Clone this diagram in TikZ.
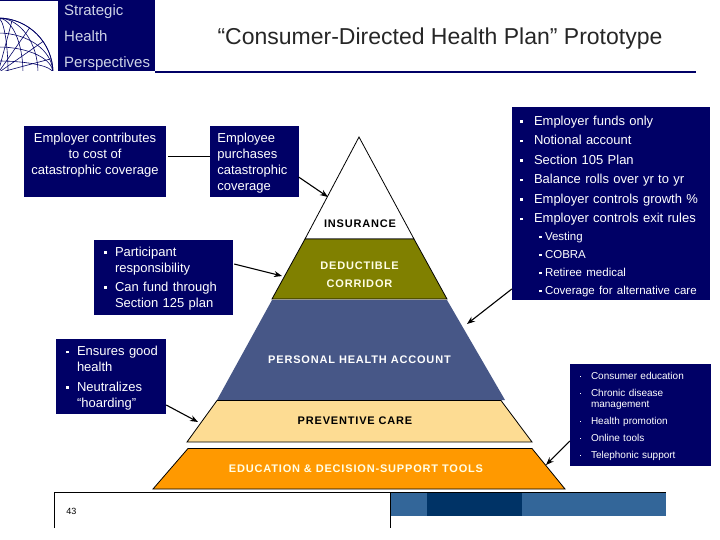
\documentclass[tikz,border=0pt]{standalone}
\usepackage{fontspec}
\setmainfont{Liberation Sans}
\newfontfamily\tierfont[LetterSpace=7.5]{Liberation Sans}
\usepackage{tikz}
\usetikzlibrary{arrows.meta,positioning}
\usepackage{xcolor}
\definecolor{navybox}   {RGB}{  0,  0,102}
\definecolor{oliveband} {RGB}{128,128,  0}
\definecolor{slateband} {RGB}{ 71, 87,135}
\definecolor{paleband}  {RGB}{253,220,147}
\definecolor{orangeband}{RGB}{255,153,  0}
\definecolor{footblue}  {RGB}{ 51,102,153}
\definecolor{footdark}  {RGB}{  0, 51,102}
\definecolor{logotext}  {RGB}{205,210,230}
\newcommand{\bu}{\raisebox{2.5pt}{\rule{2.6pt}{2.6pt}}}
\newcommand{\bs}{\raisebox{2pt}{\rule{1.3pt}{1.3pt}}}
\newcommand{\subrow}[1]{\hspace{5pt}{\fontsize{11.5}{16}\selectfont\bu\hspace{3.4pt}#1}}
\begin{document}
\begin{tikzpicture}[
    x=1pt, y=-1pt,
    box/.style={draw=none, fill=navybox, text=white, rectangle, inner ysep=0pt, inner xsep=10pt, align=left, font=\fontsize{13}{16}\selectfont},
    tier/.style={draw=black, line width=0.8pt},
    tierlabel/.style={font=\tierfont\bfseries\fontsize{11}{18}\selectfont, align=center},
    logolabel/.style={anchor=base west, text=logotext, font=\fontsize{15}{17}\selectfont, inner sep=0pt},
    arrow/.style={-{Stealth[length=8pt,width=6pt]}, line width=1.1pt}
]
    \useasboundingbox (0,0) rectangle (720,540);

    % Logo
    \fill[navybox] (0,0) rectangle (155,71);
    \fill[white] (0,1) rectangle (58,71);
    \begin{scope}
        \clip (0,1) rectangle (58,71);
        \draw[navybox, line width=0.7pt] (-2,73) circle (55);
        \foreach \r in {8,20,32,44}
            \draw[navybox, line width=0.6pt] (-2,73) ellipse (\r*1.25 and 55);
        \foreach \r in {12,26,40}
            \draw[navybox, line width=0.6pt] (-2,73) ellipse (55 and \r);
        \foreach \a in {15,35,55,75}
            \draw[navybox, line width=0.6pt] (-2,73) -- ++(-\a:55);
    \end{scope}
    \node[logolabel] (logoa) at (64,15.5) {Strategic};
    \node[logolabel] (logob) at (64,42) {Health};
    \node[logolabel] (logoc) at (64,68) {Perspectives};
    \fill[navybox] (155,71) rectangle (696,73.5);

    % Title
    \node[font=\fontsize{23}{26}\selectfont, text=black!85] (title) at (440,39) {“Consumer-Directed Health Plan” Prototype};

    % Pyramid
    \draw[tier, fill=white] (359,137) -- (414,239) -- (305,239) -- cycle;
    \draw[tier, fill=oliveband] (305,239) -- (414,239) -- (447,299) -- (272,299) -- cycle;
    \fill[slateband] (272,300) -- (447,300) -- (505,400) -- (217,400) -- cycle;
    \draw[tier, fill=paleband] (217,400.5) -- (501,400.5) -- (532,442) -- (187,442) -- cycle;
    \draw[tier, fill=orangeband] (188,448.5) -- (532,448.5) -- (565,489) -- (153,489) -- cycle;

    \node[tierlabel] (insurance) at (360,224) {INSURANCE};
    \node[tierlabel, text=white!90!yellow] (deductible) at (359.5,275) {DEDUCTIBLE\\CORRIDOR};
    \node[tierlabel, text=white] (account) at (359.5,360) {PERSONAL HEALTH ACCOUNT};
    \node[tierlabel] (preventive) at (355,421) {PREVENTIVE CARE};
    \node[tierlabel, text=white!90!yellow] (education) at (356,469) {EDUCATION \& DECISION-SUPPORT TOOLS};

    % Boxes
    \node[box, minimum width=142pt, minimum height=71pt, inner xsep=0pt, align=center, text depth=16pt] (employer) at (95,161.5) {Employer contributes\\to cost of\\catastrophic coverage};
    \node[box, minimum width=89pt, minimum height=71pt, inner xsep=7pt, text width=75pt] (employee) [right=44pt of employer] {%
        \begin{tabular}{@{}l@{}}
        \noalign{\vskip4pt}
        Employee\\
        purchases\\
        catastrophic\\
        coverage
        \end{tabular}};
    \node[box, minimum width=139pt, minimum height=75pt, text width=119pt] (participant) at (163.5,277.5) {%
        \begin{tabular}{@{}l@{\hspace{8.4pt}}l@{}}
        \noalign{\vskip2pt}
        \bu & Participant\\
            & responsibility\\[3pt]
        \bu & Can fund through\\
            & Section 125 plan
        \end{tabular}};
    \node[box, minimum width=110pt, minimum height=75pt, text width=90pt] (ensures) at (111,376.5) {%
        \begin{tabular}{@{}l@{\hspace{8.4pt}}l@{}}
        \noalign{\vskip4pt}
        \bu & Ensures good\\
            & health\\[3.5pt]
        \bu & Neutralizes\\
            & “hoarding”
        \end{tabular}};
    \node[box, minimum width=198pt, minimum height=193pt, inner xsep=8pt, text width=182pt] (funds) at (611,203.5) {%
        \begin{tabular}{@{}l@{\hspace{11.4pt}}l@{}}
        \noalign{\vskip7pt}
        \bu & Employer funds only\\[3.5pt]
        \bu & Notional account\\[3.5pt]
        \bu & Section 105 Plan\\[3.5pt]
        \bu & Balance rolls over yr to yr\\[3.5pt]
        \bu & Employer controls growth \%\\[3.5pt]
        \bu & Employer controls exit rules\\[2pt]
            & \subrow{Vesting}\\[2pt]
            & \subrow{COBRA}\\[2pt]
            & \subrow{Retiree medical}\\[2pt]
            & \subrow{Coverage for alternative care}
        \end{tabular}};
    \node[box, minimum width=141pt, minimum height=102pt, text width=121pt, font=\fontsize{10}{11}\selectfont] (support) at (640.5,415) {%
        \begin{tabular}{@{}l@{\hspace{9.7pt}}l@{}}
        \noalign{\vskip3pt}
        \bs & Consumer education\\[6pt]
        \bs & Chronic disease\\
            & management\\[6pt]
        \bs & Health promotion\\[6pt]
        \bs & Online tools\\[6pt]
        \bs & Telephonic support
        \end{tabular}};

    % Arrow tips on the pyramid
    \coordinate (insurancetip) at (328,197);
    \coordinate (deductibletip) at (282,276);
    \coordinate (accounttip) at (467,324);
    \coordinate (preventivetip) at (198,422);
    \coordinate (educationtip) at (546,465);

    % Connections
    \draw[line width=0.8pt] ([xshift=2pt,yshift=5.5pt]employer.east) -- ([yshift=5.5pt]employee.west);
    \draw[arrow] ([xshift=-1pt,yshift=-15.5pt]employee.east) -- (insurancetip);
    \draw[arrow] ([xshift=1pt,yshift=13.5pt]participant.east) -- (deductibletip);
    \draw[arrow] ([yshift=-85.5pt]funds.west) -- (accounttip);
    \draw[arrow] ([yshift=-28.5pt]ensures.east) -- (preventivetip);
    \draw[arrow] ([yshift=-26pt]support.west) -- (educationtip);

    % Footer
    \fill[footblue] (390,492) rectangle (666,516);
    \fill[footdark] (427,492) rectangle (522,516);
    \draw[line width=0.8pt] (54,528) -- (54,492) -- (666,492);
    \draw[line width=0.8pt] (390,492) -- (390,528);
    \node[font=\fontsize{9}{11}\selectfont] (pagenum) at (71.5,511) {43};
\end{tikzpicture}
\end{document}
